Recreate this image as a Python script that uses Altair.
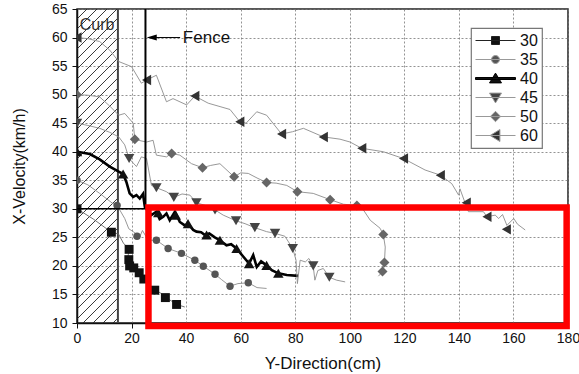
import altair as alt
import pandas as pd
import numpy as np

FONT = "Liberation Sans"

# ---------------- data ----------------
series_names = ["30", "35", "40", "45", "50", "60"]

line30_x = [0, 6, 12.6, 15.2, 17.0, 19.1, 18.5, 19.3, 20.8, 22.8, 24.5, 26.5, 28.5, 30.5, 32.4, 34.5, 36.5, 39.5]
line30_y = [30, 28.2, 25.9, 25.6, 24.0, 22.9, 21.1, 20.0, 19.65, 18.8, 17.7, 16.5, 15.75, 15.3, 14.45, 13.9, 13.25, 12.8]
mark30_x = [0, 12.6, 19.1, 19.0, 19.3, 20.8, 22.8, 24.5, 28.5, 32.4, 36.5]
mark30_y = [30, 25.9, 22.9, 21.1, 20.0, 19.65, 18.8, 17.7, 15.75, 14.45, 13.25]

line35_x = [0, 4, 8.3, 13.2, 14.7, 17.5, 19, 20.6, 23, 24, 26.1, 29.1, 33.4, 38.3, 43.2, 46.3, 50.6, 53, 56.1, 59, 62.8, 66, 69.5]
line35_y = [35, 34.2, 32.7, 30.9, 30.6, 28.3, 26.5, 26.0, 25.1, 26.2, 24.5, 24.5, 23.05, 22.2, 21.0, 19.95, 18.55, 17.6, 16.45, 16.9, 17.05, 16.2, 16.05]
mark35_x = [0, 14.7, 22.0, 29.1, 33.4, 38.3, 43.2, 46.3, 50.6, 56.1, 62.8]
mark35_y = [35, 30.6, 25.2, 24.5, 23.05, 22.2, 21.0, 19.95, 18.55, 16.45, 17.05]

line40_x = [0, 4.7, 8.3, 12, 15.3, 16.9, 18.1, 19.3, 20.6, 21.8, 23, 24.2, 24.9, 26.2, 27.3, 29.1, 30.3, 31.6, 32.8, 34,
            35.9, 37.7, 39.5, 40.7, 42.6, 43.8, 45.5, 46.9, 48.5, 50.5, 52.4, 54.8, 56.5, 58.5, 61, 63.1, 64.6, 65.9,
            67.5, 69.5, 71.4, 73.8, 76.9, 81.1]
line40_y = [40, 39.6, 38.65, 37.4, 36.5, 36.1, 34.7, 32.7, 32.1, 32.4, 31.8, 32.6, 30.3, 29.5, 28.9, 29.5, 28.2, 28.6, 29.2, 28.0,
            29.5, 27.7, 27.1, 27.4, 26.3, 26.0, 25.9, 25.4, 25.7, 25.0, 24.5, 23.6, 23.8, 23.05, 21.6, 20.4, 21.9, 19.8,
            20.8, 20.1, 19.25, 18.7, 18.4, 18.25]
mark40_x = [0, 16.9, 29.8, 36.2, 40.7, 47.5, 52.4, 58.5, 63.1, 69.5, 73.8]
mark40_y = [40, 36.1, 29.3, 28.9, 27.4, 25.4, 24.5, 23.05, 20.4, 20.1, 18.7]

line45_x = [0, 4, 8.3, 12, 15.3, 17.5, 19.1, 21.8, 23.6, 25.5, 27.3, 29.1, 32.8, 35.5, 38.5, 41.4, 43.8, 47, 50.6, 53.6,
            58.3, 61.6, 65.2, 69.5, 72.6, 76.2, 79.1, 80.3, 80.8, 81.8, 83.7, 85, 86.6, 87.2, 88.3, 90.3, 92.5, 95.2, 98.3]
line45_y = [45, 44.6, 44.1, 43.4, 42.6, 41.2, 38.8, 37.4, 39.1, 38.8, 34.1, 33.7, 33.0, 32.0, 32.6, 32.4, 31.05, 30.6, 29.8, 28.9,
            27.9, 27.4, 26.7, 26.0, 25.7, 25.2, 23.05, 21.0, 16.9, 21.0, 20.7, 21.3, 20.0, 17.5, 19.2, 19.55, 18.0, 17.5, 17.2]
mark45_x = [0, 19.1, 29.1, 35.5, 43.8, 50.6, 58.3, 65.2, 72.6, 79.1, 86.6, 92.5]
mark45_y = [45, 38.8, 33.7, 32.0, 31.05, 29.8, 27.9, 26.7, 25.7, 23.05, 20.0, 18.0]

line50_x = [0, 4, 8.3, 12, 15.3, 17.5, 20.6, 21.2, 23.5, 25.5, 27.9, 29.1, 32.8, 34.7, 37.7, 42, 46, 49, 52.4, 57.6,
            60, 62.8, 66, 69.5, 73, 76.9, 80.8, 86.6, 92.8, 97.7, 102.6, 105, 107.5, 111.1, 112.3, 113, 112.7, 112, 110.5]
line50_y = [50, 49.9, 49.6, 48.0, 46.4, 46.7, 45.0, 42.2, 41.9, 41.7, 42.0, 39.4, 39.1, 39.7, 39.4, 37.9, 37.2, 37.6, 37.9, 35.6,
            36.3, 36.2, 35.4, 34.6, 34.5, 34.1, 33.0, 32.7, 31.6, 30.8, 30.6, 29.8, 28.0, 26.6, 25.5, 23.3, 20.6, 19.0, 18.2]
mark50_x = [0, 21.2, 34.7, 46, 57.6, 69.5, 80.8, 92.8, 102.6, 112.3, 112.7, 112]
mark50_y = [50, 42.2, 39.7, 37.2, 35.6, 34.6, 33.0, 31.6, 30.6, 25.5, 20.6, 19.0]

line60_x = [0, 4, 8.3, 12, 15.3, 20, 23.6, 25.5, 29.1, 32.8, 35.2, 40.2, 43.2, 48.1, 56.1, 59.7, 62, 65.9, 69.5, 75, 79,
            83, 90.3, 96.4, 100.1, 104.4, 112.3, 119.7, 127.6, 133.2, 137.4, 139.9, 140.4, 142.3, 143.5, 149, 150.3,
            153.3, 154.6, 156, 157.6, 160.1, 161.5, 164.3]
line60_y = [60, 59.8, 59.3, 57.8, 55.8, 54.9, 52.0, 52.55, 53.4, 48.75, 49.3, 48.2, 49.75, 48.5, 47.4, 45.25, 45.0, 47.0, 46.4,
            43.1, 43.5, 44.1, 42.6, 42.2, 41.7, 40.6, 40.0, 38.8, 36.8, 35.9, 34.4, 32.4, 33.5, 31.0, 29.5, 29.5, 28.6,
            28.9, 28.3, 29.0, 27.1, 28.3, 27.3, 26.3]
mark60_x = [0, 25.5, 43.2, 59.7, 75, 90.3, 104.4, 119.7, 133.2, 142.7, 150.3, 157.4]
mark60_y = [60, 52.55, 49.75, 45.25, 43.1, 42.6, 40.6, 38.8, 35.9, 31.05, 28.6, 26.4]

x_ticks = [0, 20, 40, 60, 80, 100, 120, 140, 160, 180]
y_ticks = [10, 15, 20, 25, 30, 35, 40, 45, 50, 55, 60, 65]

curb_edge = 15.0
fence_x = 25.1
fence_bottom = 30.0
box_x = [26.2, 179.5]
box_y = [9.47, 30.24]

# ---------------- layout / styles ----------------
W, H = 491, 314
x_scale = alt.Scale(domain=[0, 180], nice=False, zero=False)
y_scale = alt.Scale(domain=[10, 65], nice=False, zero=False)

x_axis = alt.Axis(title="Y-Direction(cm)", values=x_ticks, grid=True, gridColor="#777", gridDash=[2, 2],
                  gridWidth=0.8, domainColor="#111", domainWidth=1.5, tickColor="#111", tickSize=5,
                  labelFont=FONT, labelFontSize=14, labelColor="#111", labelPadding=3, labelOverlap=False,
                  labelFlush=False, titleFont=FONT, titleFontSize=17, titleFontWeight="normal",
                  titleColor="#111", titleY=40, titleBaseline="middle", format="d")
y_axis = alt.Axis(title="X-Velocity(km/h)", values=y_ticks, grid=True, gridColor="#777", gridDash=[2, 2],
                  gridWidth=0.8, domainColor="#111", domainWidth=1.5, tickColor="#111", tickSize=5,
                  labelFont=FONT, labelFontSize=14, labelColor="#111", labelPadding=5, labelOverlap=False,
                  labelFlush=False, titleFont=FONT, titleFontSize=16, titleFontWeight="normal",
                  titleColor="#111", titleX=-58, titleY=157, titleAngle=270, titleAlign="center",
                  titleBaseline="middle", format="d")


def X(field):
    return alt.X(field, type="quantitative", scale=x_scale, axis=x_axis)


def Y(field):
    return alt.Y(field, type="quantitative", scale=y_scale, axis=y_axis)


layers = []

# hatch of the curb (decoration, 45 degree lines in pixel space)
kx, ky = W / 180.0, H / 55.0
hw, hh = curb_edge * kx, H
segs = []
for c in np.arange(-hh, hw, 10.0):
    v1, v2 = max(0.0, -c), min(hh, hw - c)
    if v2 > v1:
        segs.append({"x1": (v1 + c) / kx, "y1": 10 + v1 / ky, "x2": (v2 + c) / kx, "y2": 10 + v2 / ky})
hatch = alt.Chart(pd.DataFrame(segs)).mark_rule(color="#222", strokeWidth=0.9).encode(
    x=X("x1"), y=Y("y1"), x2="x2", y2="y2")
layers.append(hatch)

edge = alt.Chart(pd.DataFrame({"x": [curb_edge], "y": [10], "y2": [65]})).mark_rule(
    color="#444", strokeWidth=2).encode(x=X("x"), y=Y("y"), y2="y2")
layers.append(edge)

lines = {
    "30": (line30_x, line30_y, mark30_x, mark30_y),
    "35": (line35_x, line35_y, mark35_x, mark35_y),
    "40": (line40_x, line40_y, mark40_x, mark40_y),
    "45": (line45_x, line45_y, mark45_x, mark45_y),
    "50": (line50_x, line50_y, mark50_x, mark50_y),
    "60": (line60_x, line60_y, mark60_x, mark60_y),
}
line_style = {"30": ("#666", 0.9), "35": ("#8c8c8c", 0.9), "40": ("#000", 2.6),
              "45": ("#8c8c8c", 0.9), "50": ("#8c8c8c", 0.9), "60": ("#8c8c8c", 0.9)}
point_style = {"30": ("square", 80, "#111"), "35": ("circle", 55, "#555"), "40": ("triangle-up", 110, "#111"),
               "45": ("triangle-down", 110, "#444"), "50": ("diamond", 100, "#666"),
               "60": ("triangle-left", 110, "#333")}

for s in series_names:
    lx, ly, mx, my = lines[s]
    col, sw = line_style[s]
    ldf = pd.DataFrame({"x": lx, "y": ly, "i": list(range(len(lx)))})
    layers.append(alt.Chart(ldf).mark_line(color=col, strokeWidth=sw, clip=True).encode(
        x=X("x"), y=Y("y"), order="i:Q"))
for s in series_names:
    lx, ly, mx, my = lines[s]
    shp, sz, col = point_style[s]
    mdf = pd.DataFrame({"x": mx, "y": my})
    layers.append(alt.Chart(mdf).mark_point(shape=shp, size=sz, color=col, filled=True, opacity=1,
                                            clip=True).encode(x=X("x"), y=Y("y")))

# fence and curb boundaries
fence = alt.Chart(pd.DataFrame({"x": [fence_x], "y": [fence_bottom], "y2": [65]})).mark_rule(
    color="#000", strokeWidth=2).encode(x=X("x"), y=Y("y"), y2="y2")
hline = alt.Chart(pd.DataFrame({"x": [0], "x2": [fence_x], "y": [fence_bottom]})).mark_rule(
    color="#000", strokeWidth=1.5).encode(x=X("x"), x2="x2", y=Y("y"))
arrow_line = alt.Chart(pd.DataFrame({"x": [28.0], "x2": [37.8], "y": [60]})).mark_rule(
    color="#000", strokeWidth=1).encode(x=X("x"), x2="x2", y=Y("y"))
arrow_head = alt.Chart(pd.DataFrame({"x": [27.4], "y": [60]})).mark_point(
    shape="M-1,0L1,-0.6L1,0.6Z", size=100, filled=True, color="#000", opacity=1).encode(x=X("x"), y=Y("y"))
layers += [fence, hline, arrow_line, arrow_head]

texts = pd.DataFrame({"x": [1.0, 38.8], "y": [62.2, 60.0], "t": ["Curb", "Fence"]})
curb_txt = alt.Chart(texts.iloc[[0]]).mark_text(align="left", baseline="middle", font=FONT, fontSize=16,
                                                 color="#333").encode(x=X("x"), y=Y("y"), text="t:N")
fence_txt = alt.Chart(texts.iloc[[1]]).mark_text(align="left", baseline="middle", font=FONT, fontSize=17,
                                                  color="#111").encode(x=X("x"), y=Y("y"), text="t:N")
layers += [curb_txt, fence_txt]

redbox = alt.Chart(pd.DataFrame({"x": [box_x[0]], "x2": [box_x[1]], "y": [box_y[0]], "y2": [box_y[1]]})).mark_rect(
    fillOpacity=0, stroke="#ff0000", strokeWidth=6.5).encode(x=X("x"), x2="x2", y=Y("y"), y2="y2")
layers.append(redbox)

# legend (symbols = line + marker, as in the reference)
paths = [
    "M-1,0H1M-0.2,-0.2H0.2V0.2H-0.2Z",
    "M-1,0H1M-0.2,0A0.2,0.2,0,1,0,0.2,0A0.2,0.2,0,1,0,-0.2,0Z",
    "M-1,-0.05H1V0.05H-1ZM0,-0.27L0.3,0.22H-0.3Z",
    "M-1,0H1M0,0.27L0.3,-0.22H-0.3Z",
    "M-1,0H1M0,-0.26L0.26,0L0,0.26L-0.26,0Z",
    "M-1,0H1M-0.27,0L0.22,-0.3V0.3Z",
]
fills = ["#111", "#555", "#111", "#444", "#666", "#333"]
strokes = ["#222", "#999", "#000", "#999", "#999", "#999"]
leg_df = pd.DataFrame({"series": series_names, "x": [-100] * 6, "y": [40] * 6})
legend_layer = alt.Chart(leg_df).mark_point(filled=True, size=1600, strokeWidth=1, opacity=1, clip=True).encode(
    x=X("x"), y=Y("y"),
    shape=alt.Shape("series:N", scale=alt.Scale(domain=series_names, range=paths), legend=alt.Legend(title=None)),
    fill=alt.Fill("series:N", scale=alt.Scale(domain=series_names, range=fills), legend=alt.Legend(title=None)),
    stroke=alt.Stroke("series:N", scale=alt.Scale(domain=series_names, range=strokes),
                      legend=alt.Legend(title=None)),
)
layers.append(legend_layer)

chart = alt.layer(*layers).properties(
    width=W, height=H,
    autosize=alt.AutoSizeParams(type="none"),
    padding={"left": 77, "top": 9, "right": 11, "bottom": 51},
    background="white",
).configure_view(stroke="#222", strokeWidth=1.5).configure_legend(
    orient="none", legendX=394, legendY=19, padding=4, strokeColor="#777", fillColor="white",
    strokeWidth=1.2, cornerRadius=0, labelFont=FONT, labelFontSize=16, labelColor="#111",
    symbolSize=1600, clipHeight=17, rowPadding=2, labelOffset=4, symbolStrokeWidth=1,
)

chart.save("out.html", embed_options={"renderer": "svg", "actions": False})
